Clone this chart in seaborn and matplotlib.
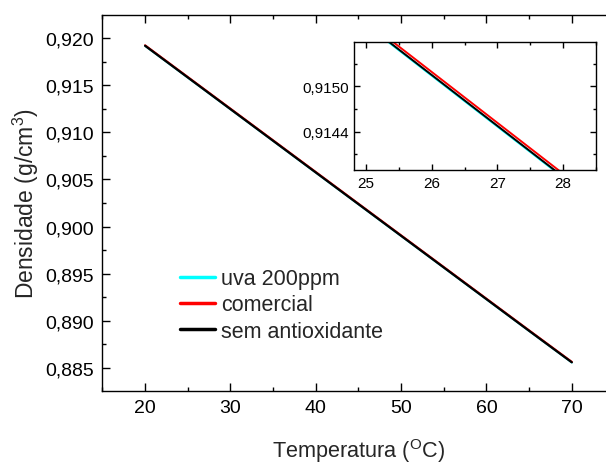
import numpy as np
import pandas as pd
import matplotlib
matplotlib.use('Agg')
import matplotlib.pyplot as plt
from matplotlib.ticker import MultipleLocator, FixedLocator, FuncFormatter
import seaborn as sns

# %% Data

temperatura = [20, 25, 30, 35, 40, 45, 50, 55, 60, 65, 70]

dens_uva = [0.91917, 0.91581, 0.91245, 0.90909, 0.90573, 0.90237,
            0.89901, 0.89565, 0.89229, 0.88893, 0.88559]
dens_comercial = [0.91922, 0.91586, 0.91250, 0.90914, 0.90578, 0.90242,
                  0.89906, 0.89570, 0.89234, 0.88898, 0.88564]
dens_sem = [0.91918, 0.91582, 0.91246, 0.90910, 0.90574, 0.90238,
            0.89902, 0.89566, 0.89230, 0.88894, 0.88560]

series_names = ['uva 200ppm', 'comercial', 'sem antioxidante']
series_colors = ['#00FFFF', '#FF0000', '#000000']

# %% Build long dataframe

df = pd.concat([
    pd.DataFrame({'T': temperatura, 'dens': dens_uva, 'amostra': series_names[0]}),
    pd.DataFrame({'T': temperatura, 'dens': dens_comercial, 'amostra': series_names[1]}),
    pd.DataFrame({'T': temperatura, 'dens': dens_sem, 'amostra': series_names[2]}),
], ignore_index=True)

palette = dict(zip(series_names, series_colors))

# %% Style

sns.set_style('ticks')
plt.rcParams['font.family'] = ['Liberation Sans', 'DejaVu Sans']
plt.rcParams['mathtext.fontset'] = 'custom'
plt.rcParams['mathtext.rm'] = 'Liberation Sans'
plt.rcParams['mathtext.it'] = 'Liberation Sans'
plt.rcParams['mathtext.default'] = 'regular'
plt.rcParams['axes.linewidth'] = 1.0
plt.rcParams['axes.edgecolor'] = 'black'

comma3 = FuncFormatter(lambda v, p: f'{v:.3f}'.replace('.', ','))
comma4 = FuncFormatter(lambda v, p: f'{v:.4f}'.replace('.', ','))

fig = plt.figure(figsize=(6.06, 4.64), dpi=100)

# %% Main axes (right edge runs past the figure, as in the original crop)

ax = fig.add_axes([0.169, 0.1552, 0.845, 0.8103])
sns.lineplot(data=df, x='T', y='dens', hue='amostra', palette=palette,
             hue_order=series_names, lw=1.6, ax=ax)

ax.set_xlim(15, 75)
ax.set_ylim(0.88256, 0.92244)
ax.xaxis.set_major_locator(MultipleLocator(10))
ax.xaxis.set_minor_locator(MultipleLocator(5))
ax.yaxis.set_major_locator(MultipleLocator(0.005))
ax.yaxis.set_minor_locator(MultipleLocator(0.0025))
ax.yaxis.set_major_formatter(comma3)
ax.tick_params(which='both', direction='in', top=True, right=False, width=1.0, colors='black')
ax.tick_params(which='major', length=5.5, labelsize=14, pad=6)
ax.tick_params(which='minor', length=3)

ax.set_xlabel('Temperatura ($^{O}$C)', fontsize=15.6, labelpad=14)
ax.set_ylabel('Densidade (g/cm$^3$)', fontsize=16.5, labelpad=3)

leg = ax.legend(loc='upper left', bbox_to_anchor=(0.152, 0.327), frameon=False,
                fontsize=15.5, handlelength=1.6, handletextpad=0.3,
                labelspacing=0.25, borderpad=0, borderaxespad=0)
for line in leg.get_lines():
    line.set_linewidth(2.5)

# %% Inset

axins = fig.add_axes([0.5847, 0.6315, 0.3988, 0.2759])
sns.lineplot(data=df, x='T', y='dens', hue='amostra', palette=palette,
             hue_order=series_names, lw=1.4, legend=False, ax=axins)
axins.set_xlim(24.82, 28.5)
axins.set_ylim(0.913894, 0.915585)
axins.xaxis.set_major_locator(MultipleLocator(1))
axins.xaxis.set_minor_locator(MultipleLocator(0.5))
axins.yaxis.set_major_locator(FixedLocator([0.9144, 0.9150]))
axins.yaxis.set_minor_locator(MultipleLocator(0.0003))
axins.yaxis.set_major_formatter(comma4)
axins.tick_params(which='both', direction='in', top=True, right=True, width=1.0, colors='black')
axins.tick_params(which='major', length=4, labelsize=11, pad=4)
axins.tick_params(which='minor', length=2.5)
axins.set_xlabel('')
axins.set_ylabel('')

fig.savefig('out.png', dpi=100)
